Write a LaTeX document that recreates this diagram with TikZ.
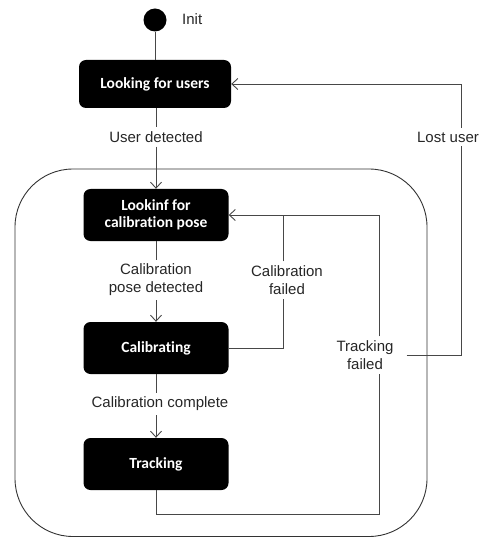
\documentclass[tikz,border=0pt]{standalone}
\usepackage{fontspec}
\setmainfont{Liberation Sans}
\newfontfamily\boxfont{Carlito}[Ligatures=NoCommon]
\usetikzlibrary{arrows.meta}
\begin{document}
\begin{tikzpicture}[x=1pt,y=-1pt,
  state/.style={fill=black, rounded corners=7pt, text=white,
    font=\boxfont\bfseries\fontsize{15.5}{17}\selectfont, align=center,
    inner sep=0pt, minimum width=145pt, minimum height=52pt},
  lbl/.style={font=\fontsize{15}{18}\selectfont, text=black!85, align=center, inner sep=4pt},
  conn/.style={draw=black!72, line width=0.9pt},
  arr/.style={conn, -{Straight Barb[length=6pt,width=11pt]}},
  outer/.style={draw=black!80, line width=0.9pt, rounded corners=58pt}]
\useasboundingbox (0,0) rectangle (481,537);
% composite state frame
\draw[outer] (15,169) rectangle (427,536.5);
% nodes
\node[fill=black, circle, minimum size=23pt, inner sep=0pt] (init) at (155,20) {};
\node[lbl, anchor=west] (initlbl) at (178,19) {Init};
\node[state, minimum width=152pt, minimum height=48pt] (looking) at (155,84) {Looking for users};
\node[state] (lookinf) at (156,215) {Lookinf for\\calibration pose};
\node[state] (calib) at (156,348) {Calibrating};
\node[state] (track) at (156,464) {Tracking};
\node[lbl] (ud) at (156,137) {User detected};
\node[lbl] (cpd) at (156,280) {Calibration\\pose detected};
\node[lbl] (cf) at (287,280) {Calibration\\failed};
\node[lbl] (cc) at (160,404) {Calibration complete};
\node[lbl] (tf) at (365,355) {Tracking\\failed};
\node[lbl] (lu) at (448,137) {Lost user};
\coordinate (tfb) at (379,514);
\coordinate (cfx) at (283,0);
\coordinate (lux) at (461,0);
% connectors
\draw[conn] (init) -- (looking);
\draw[conn] (looking.south -| ud) -- (ud);
\draw[arr] (ud) -- (lookinf);
\draw[conn] (lookinf) -- (cpd);
\draw[arr] (cpd) -- (calib);
\draw[conn] (calib.south) -- (calib.south |- cc.north);
\draw[arr] (calib.south |- cc.south) -- (track.north);
\draw[conn] (calib.east) -| (cfx |- cf.south);
\draw[conn] (cfx |- cf.north) -- (cfx |- lookinf.east);
\draw[conn] (track.south) |- (tfb) -- (tfb |- tf.south);
\draw[arr] (tfb |- tf.north) |- (lookinf.east);
\draw[conn] ([xshift=9pt]tf.east) -| (lux |- lu.south);
\draw[arr] (lux |- lu.north) |- (looking.east);
\end{tikzpicture}
\end{document}
